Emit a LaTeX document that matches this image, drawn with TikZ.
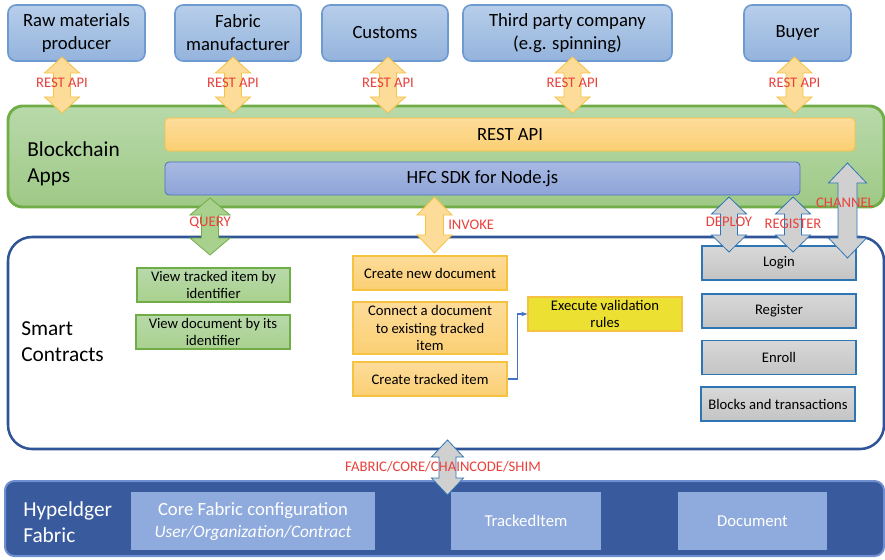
\documentclass[tikz,border=0pt]{standalone}
\usepackage{fontspec}
\setmainfont{Carlito}
\usepackage{tikz}
\usetikzlibrary{arrows.meta,positioning}
\definecolor{orgline}{HTML}{6D9BD1}
\definecolor{orgtop}{HTML}{B7CEEA}
\definecolor{orgbot}{HTML}{94B3DC}
\definecolor{appline}{HTML}{70AD47}
\definecolor{apptop}{HTML}{B8D9AA}
\definecolor{appbot}{HTML}{9FC986}
\definecolor{restline}{HTML}{F5C242}
\definecolor{resttop}{HTML}{FDDC9A}
\definecolor{restbot}{HTML}{FBCF73}
\definecolor{sdkline}{HTML}{4A72C0}
\definecolor{sdktop}{HTML}{A8B9E2}
\definecolor{sdkbot}{HTML}{8EA4D8}
\definecolor{qryfill}{HTML}{A9D18E}
\definecolor{grayfill}{HTML}{D0D0D0}
\definecolor{graytop}{HTML}{D8D8D8}
\definecolor{graybot}{HTML}{C4C4C4}
\definecolor{grayline}{HTML}{2E75B6}
\definecolor{scline}{HTML}{2F5597}
\definecolor{valfill}{HTML}{ECE032}
\definecolor{hlfill}{HTML}{3A5A9E}
\definecolor{hlline}{HTML}{6F8FD0}
\definecolor{hlbox}{HTML}{8FAADC}
\definecolor{lblred}{HTML}{E8413C}
\definecolor{conn}{HTML}{4472C4}
\newlength\px
\setlength\px{0.75pt}
% double block arrow: style, x, y top, y bottom, head half width, head length, shaft half width
\newcommand\blockarr[7]{%
  \draw[#1] (#2,#3) -- ({#2+#5},{#3+#6}) -- ({#2+#7},{#3+#6}) -- ({#2+#7},{#4-#6})
    -- ({#2+#5},{#4-#6}) -- (#2,#4) -- ({#2-#5},{#4-#6}) -- ({#2-#7},{#4-#6})
    -- ({#2-#7},{#3+#6}) -- ({#2-#5},{#3+#6}) -- cycle;}

\begin{document}
\begin{tikzpicture}[x=0.75pt, y=-0.75pt,
  orgbox/.style={draw=orgline, line width=1.2pt, rounded corners=6pt, top color=orgtop, bottom color=orgbot, minimum height=56\px, align=center, inner sep=0pt, font=\fontsize{14}{17.25}\selectfont},
  bigtxt/.style={align=left, inner sep=0pt, font=\fontsize{16}{19.5}\selectfont},
  bar/.style={line width=0.6pt, rounded corners=3pt, minimum height=33\px, inner sep=0pt, font=\fontsize{14}{17}\selectfont},
  smallbox/.style={line width=1pt, minimum width=154\px, minimum height=34\px, align=center, inner sep=0pt, font=\fontsize{11}{13}\selectfont},
  qrybox/.style={smallbox, draw=appline, top color=apptop, bottom color=qryfill},
  invbox/.style={smallbox, draw=restline, top color=resttop, bottom color=restbot},
  graybox/.style={smallbox, draw=grayline, top color=graytop, bottom color=graybot},
  hlinner/.style={fill=hlbox, minimum height=58\px, align=center, inner sep=0pt, text=white},
  lbl/.style={text=lblred, inner sep=0pt, font=\fontsize{11}{13}\selectfont},
  restarr/.style={fill=resttop, draw=restline, line width=0.6pt},
  qryarr/.style={fill=qryfill, draw=appline, line width=0.6pt},
  grayarr/.style={fill=grayfill, draw=grayline, line width=0.6pt},
  connarr/.style={-{Stealth[length=1.6mm]}, draw=conn, line width=0.8pt}]
\useasboundingbox (0,0) rectangle (885,560);

\node[orgbox, minimum width=137\px] (raw) at (76.5,33) {Raw materials\\producer};
\node[orgbox, minimum width=126\px] (fabric) at (238,33) {Fabric\\manufacturer};
\node[orgbox, minimum width=126\px] (customs) at (385,33) {Customs};
\node[orgbox, minimum width=209\px] (third) at (567.5,33) {Third party company\\(e.g. spinning)};
\node[orgbox, minimum width=107\px] (buyer) at (797.5,33) {Buyer};

\node[draw=appline, line width=2.2pt, rounded corners=11pt, top color=apptop, bottom color=appbot, minimum width=876\px, minimum height=101\px] (apps) at (446,156.5) {};
\node[bigtxt, anchor=west] (appslbl) at (27,164) {Blockchain\\Apps};
\node[bar, draw=restline, top color=resttop, bottom color=restbot, minimum width=690\px] (restbar) at (510,134.5) {REST API};
\node[bar, draw=sdkline, top color=sdktop, bottom color=sdkbot, minimum width=635\px] (sdkbar) at (482.5,178.5) {HFC SDK for Node.js};

\node[draw=scline, line width=1.9pt, rounded corners=18pt, fill=white, minimum width=876\px, minimum height=212\px] (smart) at (446,343) {};
\node[bigtxt, anchor=west] (smartlbl) at (21,341.5) {Smart\\Contracts};

\node[qrybox, minimum width=153\px] (viewitem) at (213.5,285) {View tracked item by\\identifier};
\node[qrybox] (viewdoc) at (213,332) {View document by its\\identifier};

\node[invbox] (newdoc) at (430,273) {Create new document};
\node[invbox, minimum height=52\px] (connect) at (430,328) {Connect a document\\to existing tracked\\item};
\node[invbox] (newitem) at (430,379) {Create tracked item};
\node[smallbox, draw=restline, fill=valfill] (valid) at (605,314) {Execute validation\\rules};
\draw[connarr] (newitem.east) -- ++(10,0) |- (valid.west);

\node[graybox] (login) at (779,263) {Login};
\node[graybox] (register) at (779,311) {Register};
\node[graybox] (enroll) at (779,357.5) {Enroll};
\node[graybox] (blocks) at (778,404) {Blocks and transactions};

\node[draw=hlline, line width=1.5pt, rounded corners=7pt, fill=hlfill, minimum width=879\px, minimum height=75\px] (hyper) at (444.5,518.5) {};
\node[bigtxt, anchor=west, text=white] (hyperlbl) at (23,522.5) {Hypeldger\\Fabric};
\node[hlinner, minimum width=244\px, font=\fontsize{14}{16.5}\selectfont] (core) at (253,521) {Core Fabric configuration\\{\fontsize{13}{16.5}\selectfont\itshape User/Organization/Contract}};
\node[hlinner, minimum width=150\px, font=\fontsize{12.5}{15}\selectfont] (tracked) at (526,521) {TrackedItem};
\node[hlinner, minimum width=149\px, font=\fontsize{12.5}{15}\selectfont] (document) at (752.5,521) {Document};

\foreach \ax in {62,233,388,572.5,794.5}
  \blockarr{restarr}{\ax}{57}{113}{17.5}{16}{8.5};
\blockarr{qryarr}{210}{198}{255}{20}{17}{8.5}
\blockarr{restarr}{434.5}{197}{253}{17.5}{18}{9}
\blockarr{grayarr}{729}{197}{252}{17.5}{17}{8.5}
\blockarr{grayarr}{793}{197}{252}{17.5}{17}{8.5}
\blockarr{grayarr}{847.5}{163}{258}{19}{20}{9.5}
\blockarr{grayarr}{447.5}{440}{495}{16}{17}{8.5}

\foreach \ax/\nm in {62/a,233/b,388/c,572.5/d,794.5/e}
  \node[lbl] (rest\nm) at (\ax,83) {REST API};
\node[lbl] (query) at (210,223) {QUERY};
\node[lbl, anchor=west] (invoke) at (448,225) {INVOKE};
\node[lbl] (deploy) at (729,222) {DEPLOY};
\node[lbl] (registerlbl) at (793,224) {REGISTER};
\node[lbl] (channel) at (845,203) {CHANNEL};
\node[lbl] (shim) at (443,467) {FABRIC/CORE/CHAINCODE/SHIM};
\end{tikzpicture}
\end{document}
